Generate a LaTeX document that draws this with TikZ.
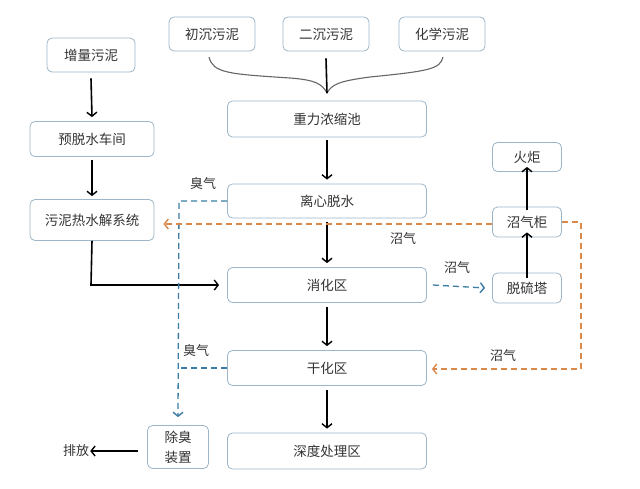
\documentclass[tikz,border=0pt]{standalone}
\usepackage{fontspec}
\setmainfont{Noto Sans CJK SC}
\usetikzlibrary{arrows.meta}
\definecolor{boxline}{HTML}{9DB5C6}
\definecolor{gasblue}{HTML}{3A7CA5}
\definecolor{gasorange}{HTML}{D8894B}
\definecolor{txt}{HTML}{333333}
\tikzset{
  box/.style={rectangle,draw=boxline,rounded corners=5pt,line width=0.8pt,
    text=txt,font=\fontsize{13.5}{15}\selectfont,inner sep=2pt},
  tip/.style={-{Straight Barb[length=4pt,width=10pt,line width=1.4pt]}},
  flow/.style={line width=1.6pt,tip},
  smell/.style={gasblue,dash pattern=on 6pt off 4pt,line width=1.3pt},
  biogas/.style={gasorange,dash pattern=on 6pt off 4pt,line width=1.3pt},
  gaslabel/.style={text=txt,font=\fontsize{13}{15}\selectfont}
}
\begin{document}
\begin{tikzpicture}[x=1pt,y=-1pt]
        \useasboundingbox (0,0) rectangle (640,488);
        %\draw [very thin, green]  (0,0) grid [step=20] (640,488);
        \node at (212,34) [box,minimum width=86pt,minimum height=34pt] (cc) {初沉污泥};
        \node at (326,34) [box,minimum width=86pt,minimum height=34pt] (ec) {二沉污泥};
        \node at (442,34) [box,minimum width=86pt,minimum height=34pt] (hx) {化学污泥};
        \node at (91,55) [box,minimum width=88pt,minimum height=34pt] (zl) {增量污泥};
        \node at (92,139) [box,minimum width=124pt,minimum height=35pt] (ytsh) {预脱水车间};
        \node at (92,220) [box,minimum width=124pt,minimum height=41pt] (rsj) {污泥热水解系统};

        \node at (327,119) [box,minimum width=199pt,minimum height=36pt] (zlns) {重力浓缩池};
        \node at (327,201) [box,minimum width=199pt,minimum height=34pt] (lxts) {离心脱水};
        \node at (327,285) [box,minimum width=199pt,minimum height=35pt] (xhq) {消化区};
        \node at (327,368) [box,minimum width=199pt,minimum height=35pt] (ghq) {干化区};
        \node at (327,451) [box,minimum width=199pt,minimum height=36pt] (sdcl) {深度处理区};

        \node at (178,447) [box,minimum width=61pt,minimum height=43pt,align=center] (cc2) {除臭\\[5pt]装置};
        \node at (76,451) [gaslabel,inner sep=1pt] (pf) {排放};

        \node at (527,157) [box,minimum width=69pt,minimum height=29pt] (hj) {火炬};
        \node at (527,222) [box,minimum width=69pt,minimum height=30pt] (zqg) {沼气柜};
        \node at (527,288) [box,minimum width=69pt,minimum height=30pt] (tlt) {脱硫塔};

        % brace of the three sludges
        \coordinate (merge) at (327,93);
        \draw [line width=1.1pt, black!60] (209,57) .. controls (213,73) and (228,74) .. (290,78)
              .. controls (316,80) and (322,84) .. (merge)
              .. controls (332,84) and (340,81) .. (370,77)
              .. controls (430,71) and (440,69) .. (443,57);
        \draw [line width=1.6pt] (ec.south) ++(0,7) -- (merge);

        \draw [flow] ([yshift=-6pt]zl.south) -- ([yshift=4pt]ytsh.north);
        \draw [flow] ([yshift=-3pt]ytsh.south) -- ([yshift=3pt]rsj.north);
        \draw [flow] (rsj.south) -- (91,285) -- ([xshift=-8pt]xhq.west);
        \draw [flow] ([yshift=-3pt]zlns.south) -- ([yshift=4pt]lxts.north);
        \draw [flow] ([yshift=-4pt]lxts.south) -- ([yshift=4pt]xhq.north);
        \draw [flow] ([yshift=-4pt]xhq.south) -- ([yshift=4pt]ghq.north);
        \draw [flow] ([yshift=-4pt]ghq.south) -- ([yshift=4pt]sdcl.north);
        \draw [flow] ([yshift=-5pt]tlt.north) -- ([yshift=5pt]zqg.south);
        \draw [flow] ([yshift=-3pt]zqg.north) -- ([yshift=5pt]hj.south);
        \draw [flow] ([xshift=-9pt]cc2.west |- pf) -- (pf.east);

        % odour gas
        \draw [smell,tip] (lxts.west) -- (179,201) -- ([yshift=8pt]cc2.north);
        \draw [smell] (ghq.west) -- (179,368);
        \node at (203,184) [gaslabel] (cq1) {臭气};
        \node at (196,351) [gaslabel] (cq2) {臭气};

        % biogas
        \draw [smell,tip] ([xshift=6pt]xhq.east) -- ([xshift=-7pt]tlt.west);
        \node at (457,268) [gaslabel] (zq1) {沼气};
        \draw [biogas,tip] (zqg.west |- 0,224) -- ([xshift=9pt]rsj.east |- 0,224);
        \draw [biogas,tip] (zqg.east) -- (581,222) -- (581,369) -- ([xshift=5pt]ghq.east |- 0,369);
        \node at (403,239) [gaslabel] (zq2) {沼气};
        \node at (503,356) [gaslabel] (zq3) {沼气};
\end{tikzpicture}
\end{document}
